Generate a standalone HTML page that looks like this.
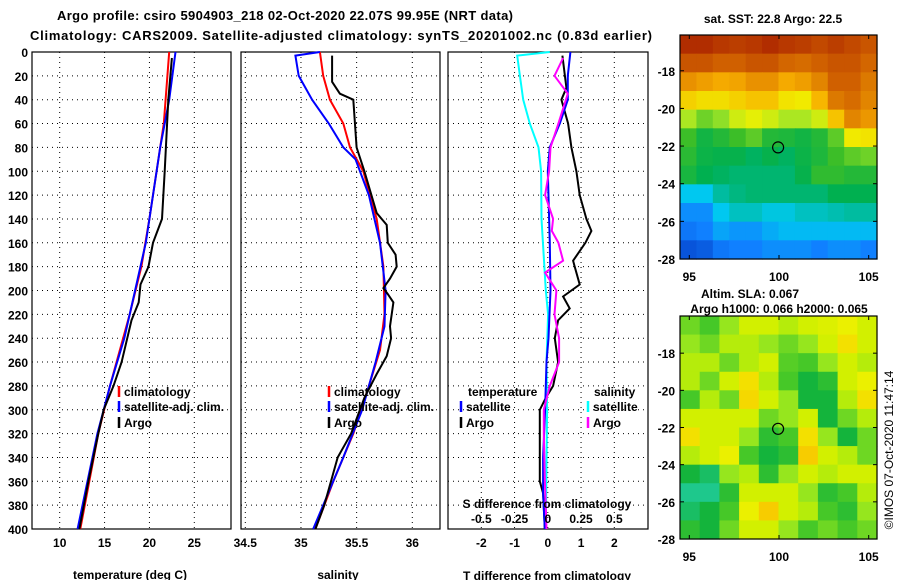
<!DOCTYPE html>
<html><head><meta charset="utf-8"><style>
html,body{margin:0;padding:0;background:#fff;}
svg{display:block;font-family:"Liberation Sans",sans-serif;font-weight:bold;}
</style></head><body>
<svg id="c" width="900" height="580" viewBox="0 0 900 580" xmlns="http://www.w3.org/2000/svg"></svg>
<script>
// ---------- data ----------
const tempClimDepth=[0,60,80,140,180,220,280,320,400];
const tempClim=[22.2,21.6,21.2,20.0,19.1,17.8,15.6,14.3,12.3];
const tempSatDepth=[0,40,80,120,160,200,240,280,320,400];
const tempSat=[22.9,22.2,21.2,20.4,19.6,18.4,17.2,15.6,14.2,12.0];
const tempArgoDepth=[5,40,100,140,160,180,195,210,225,260,280,300,320,360,400];
const tempArgo=[22.5,22.1,21.7,21.4,20.4,19.9,19.0,18.8,18.0,16.9,16.0,14.9,14.3,13.2,12.2];

const salClimDepth=[0,20,40,60,80,100,140,180,220,250,280,320,360,400];
const salClim=[35.17,35.2,35.26,35.38,35.44,35.56,35.68,35.74,35.75,35.71,35.61,35.47,35.29,35.13];
const salSatDepth=[0,3,20,40,60,80,90,120,160,200,230,260,300,340,400];
const salSat=[35.17,34.95,34.98,35.1,35.25,35.38,35.49,35.61,35.71,35.76,35.75,35.67,35.55,35.38,35.11];
const salArgoDepth=[3,25,35,40,80,100,135,145,160,170,180,190,198,203,210,230,240,255,270,290,320,340,380,400];
const salArgo=[35.28,35.28,35.35,35.47,35.5,35.57,35.68,35.77,35.78,35.85,35.86,35.8,35.74,35.78,35.83,35.8,35.81,35.77,35.68,35.57,35.45,35.33,35.21,35.13];

const tdSatDepth=[0,20,40,60,80,100,160,200,240,260,300,340,370,400];
const tdSat=[0.68,0.6,0.6,0.36,0.06,0,0.06,0.08,0.02,-0.04,-0.08,-0.14,-0.14,-0.09];
const tdArgoDepth=[3,30,40,60,80,100,120,140,150,160,175,180,195,205,215,225,240,260,280,290,300,320,340,360,370,400];
const tdArgo=[0.44,0.56,0.41,0.61,0.71,0.86,0.96,1.16,1.31,1.13,0.76,0.81,0.96,0.46,0.66,0.31,0.21,0.31,0.16,-0.06,-0.24,-0.24,-0.24,-0.24,-0.14,-0.09];
const sdSatDepth=[0,3,20,40,60,80,100,140,200,220,260,300,400];
const sdSat=[0.015,-0.23,-0.21,-0.185,-0.135,-0.07,-0.05,-0.047,-0.015,0.002,-0.01,-0.005,-0.015];
const sdArgoDepth=[5,20,35,60,80,100,120,140,150,160,175,185,200,220,240,260,280,300,320,360,400];
const sdArgo=[0.115,0.05,0.15,0.08,0.02,0.01,-0.02,0.04,0.03,0.08,0.115,-0.02,0.065,0.05,0.085,0.085,0.015,-0.03,-0.03,-0.022,-0.01];

const depthTicks=[0,20,40,60,80,100,120,140,160,180,200,220,240,260,280,300,320,340,360,380,400];
const tempTicks=[10,15,20,25];
const salTicks=[34.5,35,35.5,36];
const tdTicks=[-2,-1,0,1,2];
const sdTicks=[-0.5,-0.25,0,0.25,0.5];
const sdTickLabels=["-0.5","-0.25","0","0.25","0.5"];
const lonTicks=[95,100,105];
const latTicks=[-18,-20,-22,-24,-26,-28];

const sstGrid=[
[.95,.95,.93,.92,.93,.95,.93,.92,.9,.92,.9,.88],
[.88,.88,.86,.86,.88,.88,.85,.84,.86,.88,.88,.85],
[.78,.76,.74,.75,.78,.78,.74,.76,.8,.86,.86,.82],
[.68,.66,.66,.68,.7,.7,.65,.64,.72,.82,.84,.8],
[.57,.53,.55,.6,.62,.6,.57,.57,.6,.7,.8,.77],
[.5,.43,.46,.5,.52,.46,.45,.43,.46,.52,.64,.65],
[.47,.42,.41,.41,.39,.41,.39,.42,.45,.5,.52,.53],
[.44,.4,.39,.38,.38,.38,.38,.41,.48,.48,.46,.46],
[.3,.3,.35,.37,.38,.38,.38,.38,.38,.4,.4,.4],
[.22,.22,.3,.33,.33,.31,.31,.33,.33,.34,.35,.35],
[.18,.2,.25,.23,.23,.26,.28,.28,.28,.28,.28,.28],
[.1,.12,.18,.2,.2,.22,.22,.22,.2,.22,.22,.2]];
const slaGrid=[
[.45,.4,.5,.6,.6,.55,.6,.62,.65,.6],
[.5,.45,.55,.55,.5,.45,.5,.6,.7,.6],
[.55,.55,.45,.55,.6,.42,.4,.5,.6,.55],
[.55,.45,.6,.7,.55,.4,.3,.35,.6,.65],
[.4,.55,.45,.72,.6,.5,.3,.3,.55,.7],
[.6,.6,.6,.6,.45,.5,.6,.3,.45,.55],
[.7,.6,.6,.5,.35,.4,.7,.5,.3,.45],
[.55,.6,.65,.4,.3,.35,.75,.6,.55,.45],
[.3,.25,.5,.55,.35,.5,.6,.55,.6,.6],
[.2,.2,.35,.6,.6,.6,.5,.35,.4,.55],
[.25,.3,.4,.65,.75,.6,.55,.4,.35,.5],
[.35,.3,.45,.6,.6,.5,.4,.45,.4,.45]];
const argoLon=[99.95];
const argoLat=[-22.07];

// ---------- helpers ----------
const svg=document.getElementById('c');
const NS='http://www.w3.org/2000/svg';
function mk(tag,attrs,parent){const e=document.createElementNS(NS,tag);for(const k in attrs)e.setAttribute(k,attrs[k]);(parent||svg).appendChild(e);return e;}
function txt(s,x,y,anchor,size,parent,name){const t=mk('text',{x:x,y:y,'text-anchor':anchor||'middle','font-size':size||12,fill:'#000'},parent);t.textContent=s;


return t;}
const Y0=52,Y1=529;
const yDepth=d=>Y0+(d/400)*(Y1-Y0);
function linScale(d0,d1,r0,r1){return v=>r0+(v-d0)/(d1-d0)*(r1-r0);}

function panel(name,x0,x1,xs,ticks,tickLabels,leftLabels){
  const g=mk('g',{});
  
  
  depthTicks.forEach(d=>{if(d>0&&d<400)mk('line',{x1:x0,x2:x1,y1:yDepth(d),y2:yDepth(d),stroke:'#000','stroke-width':1,'stroke-dasharray':'1,4'},g);});
  ticks.forEach(t=>{const x=xs(t);mk('line',{x1:x,x2:x,y1:Y0,y2:Y1,stroke:'#000','stroke-width':1,'stroke-dasharray':'1,4'},g);
    txt(tickLabels?tickLabels(t):String(t),x,547,'middle',12,g,'x-tick-label');});
  if(leftLabels)depthTicks.forEach(d=>txt(String(d),28,yDepth(d)+5,'end',12,g,'y-tick-label'));
  const r=mk('rect',{x:x0,y:Y0,width:x1-x0,height:Y1-Y0,fill:'none',stroke:'#000','stroke-width':1.2},g);
  
  
  return g;
}
function series(g,depths,vals,xs,color,w,name){
  const pts=depths.map((d,i)=>xs(vals[i]).toFixed(1)+','+yDepth(d).toFixed(1)).join(' ');
  const p=mk('polyline',{points:pts,fill:'none',stroke:color,'stroke-width':w||2},g);
  
  
}
function legend(g,x,y,color,label,name){
  const l=mk('line',{x1:x,x2:x,y1:y-6,y2:y+5,stroke:color,'stroke-width':2.5},g);
  
  
  txt(label,x+5,y+4,'start',12,g,name);
}

// ---------- titles ----------
const t1=txt('Argo profile: csiro 5904903_218 02-Oct-2020 22.07S 99.95E (NRT data)',285,20,'middle',13,svg,'chart-title');
t1.setAttribute('textLength','456');
const t2=txt('Climatology: CARS2009. Satellite-adjusted climatology: synTS_20201002.nc (0.83d earlier)',341,40,'middle',13,svg,'chart-subtitle');
t2.setAttribute('textLength','622');

// ---------- panel 1: temperature ----------
const xT=linScale(10,25,59.7,194.3);
const g1=panel('temperature-panel',32,231,xT,tempTicks,null,true);
series(g1,tempClimDepth,tempClim,xT,'#ff0000',2,'temp-climatology-line');
series(g1,tempSatDepth,tempSat,xT,'#0000ff',2,'temp-satellite-line');
series(g1,tempArgoDepth,tempArgo,xT,'#000000',2,'temp-argo-line');
legend(g1,119,392,'#ff0000','climatology','legend-climatology');
legend(g1,119,407,'#0000ff','satellite-adj. clim.','legend-satellite');
legend(g1,119,423,'#000000','Argo','legend-argo');
txt('temperature (deg C)',130,579,'middle',12,svg,'x-axis-title-temperature');

// ---------- panel 2: salinity ----------
const xS=linScale(34.5,36,245.3,412.3);
const g2=panel('salinity-panel',241,440,xS,salTicks,null,false);
series(g2,salClimDepth,salClim,xS,'#ff0000',2,'sal-climatology-line');
series(g2,salSatDepth,salSat,xS,'#0000ff',2,'sal-satellite-line');
series(g2,salArgoDepth,salArgo,xS,'#000000',2,'sal-argo-line');
legend(g2,329,392,'#ff0000','climatology','legend-climatology');
legend(g2,329,407,'#0000ff','satellite-adj. clim.','legend-satellite');
legend(g2,329,423,'#000000','Argo','legend-argo');
txt('salinity',338,579,'middle',12,svg,'x-axis-title-salinity');

// ---------- panel 3: differences ----------
const xD=linScale(-2,2,481.3,614.3);
const xSD=v=>xD(v*4);
const g3=panel('difference-panel',448,648,xD,tdTicks,null,false);
series(g3,tdArgoDepth,tdArgo,xD,'#000000',2,'tdiff-argo-line');
series(g3,sdSatDepth,sdSat,xSD,'#00ffff',2,'sdiff-satellite-line');
series(g3,tdSatDepth,tdSat,xD,'#0000ff',2,'tdiff-satellite-line');
series(g3,sdArgoDepth,sdArgo,xSD,'#ff00ff',2,'sdiff-argo-line');
txt('temperature',468,396,'start',12,g3,'legend-temperature-heading');
legend(g3,461,407,'#0000ff','satellite','legend-t-satellite');
legend(g3,461,423,'#000000','Argo','legend-t-argo');
txt('salinity',594,396,'start',12,g3,'legend-salinity-heading');
legend(g3,588,407,'#00ffff','satellite','legend-s-satellite');
legend(g3,588,423,'#ff00ff','Argo','legend-s-argo');
txt('S difference from climatology',547,508,'middle',12,g3,'s-diff-axis-title');
sdTicks.forEach((v,i)=>txt(sdTickLabels[i],xSD(v),523,'middle',12,g3,'s-diff-tick-label'));
txt('T difference from climatology',547,580,'middle',12,svg,'x-axis-title-tdiff');

// ---------- maps ----------
const sstStops=[[0,[0,40,180]],[.2,[16,128,255]],[.3,[0,200,240]],[.4,[0,176,80]],[.5,[60,190,40]],[.56,[160,230,40]],[.63,[240,240,0]],[.73,[248,176,0]],[.86,[208,96,0]],[1,[160,16,0]]];
const slaStops=[[0,[0,190,170]],[.2,[30,200,140]],[.3,[20,180,60]],[.4,[70,200,40]],[.5,[150,230,30]],[.58,[200,240,0]],[.66,[240,240,0]],[.76,[248,200,0]],[1,[248,150,0]]];
function cmap(stops,v){for(let i=1;i<stops.length;i++){if(v<=stops[i][0]){const a=stops[i-1],b=stops[i];const f=(v-a[0])/(b[0]-a[0]);
const c=a[1].map((x,k)=>Math.round(x+(b[1][k]-x)*f));return 'rgb('+c.join(',')+')';}}const l=stops[stops.length-1][1];return 'rgb('+l.join(',')+')';}
function map(name,grid,stops,x0,x1,y0,y1,latTop,xLon){
  const g=mk('g',{});
  
  
  const rows=grid.length,cols=grid[0].length,cw=(x1-x0)/cols,ch=(y1-y0)/rows;
  grid.forEach((row,r)=>row.forEach((v,c)=>{
    const cell=mk('rect',{x:(x0+c*cw).toFixed(2),y:(y0+r*ch).toFixed(2),width:(cw+0.6).toFixed(2),height:(ch+0.6).toFixed(2),fill:cmap(stops,v)},g);
    
    
  }));
  const yLat=linScale(-28,latTop,y1,y0);
  const fr=mk('rect',{x:x0,y:y0,width:x1-x0,height:y1-y0,fill:'none',stroke:'#000','stroke-width':1.2},g);
  
  
  lonTicks.forEach(l=>{const x=xLon(l);mk('line',{x1:x,x2:x,y1:y0,y2:y0+4,stroke:'#000'},g);mk('line',{x1:x,x2:x,y1:y1,y2:y1-4,stroke:'#000'},g);
    txt(String(l),x,y1+22,'middle',12,g,'lon-tick-label');});
  latTicks.forEach(l=>{const y=yLat(l);mk('line',{x1:x0,x2:x0+4,y1:y,y2:y,stroke:'#000'},g);mk('line',{x1:x1,x2:x1-4,y1:y,y2:y,stroke:'#000'},g);
    txt(String(l),675,y+5,'end',12,g,'lat-tick-label');});
  argoLon.forEach((lo,i)=>{const m=mk('circle',{cx:xLon(lo),cy:yLat(argoLat[i]),r:5.5,fill:'none',stroke:'#000','stroke-width':1.2},g);
    
    });
  return g;
}
const xLon=linScale(95,105,689.3,868.7);
map('sst-map',sstGrid,sstStops,680,877,35,259,-16.1,xLon);
txt('sat. SST: 22.8 Argo: 22.5',773,23,'middle',12,svg,'sst-map-title');
map('sla-map',slaGrid,slaStops,680,877,316,539,-16.0,xLon);
txt('Altim. SLA: 0.067',750,298,'middle',12,svg,'sla-map-title');
txt('Argo h1000: 0.066 h2000: 0.065',779,313,'middle',12,svg,'sla-map-subtitle');
const cr=txt('©IMOS 07-Oct-2020 11:47:14',0,0,'middle',12,svg,'copyright-timestamp');
cr.setAttribute('font-weight','normal');
cr.setAttribute('transform','translate(893,450) rotate(-90)');
</script>
</body></html>
